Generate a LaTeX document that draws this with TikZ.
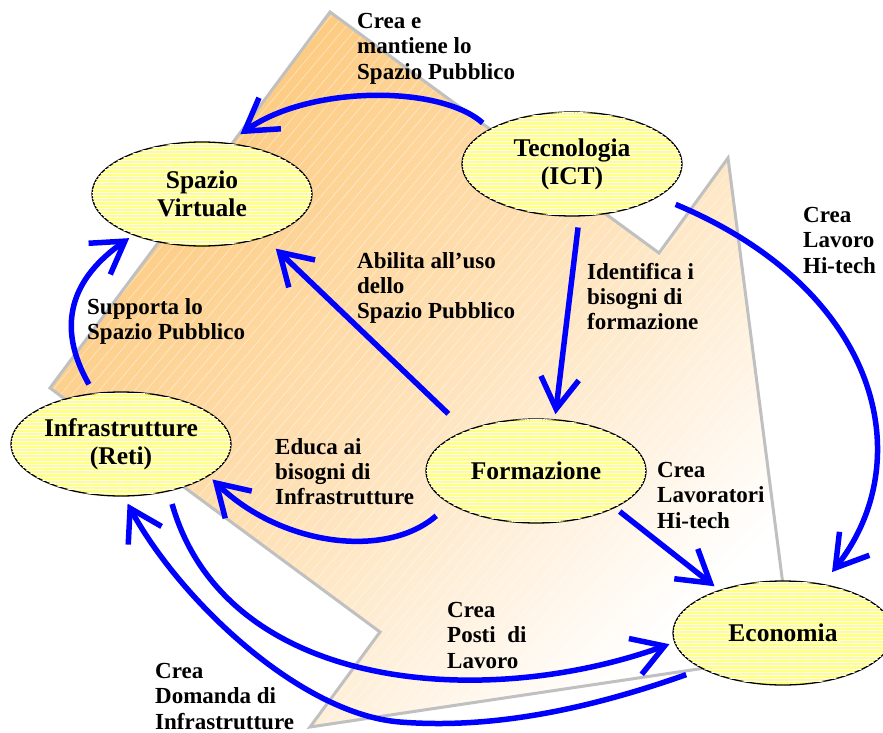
\documentclass[tikz,border=0pt]{standalone}
\usepackage{fontspec}
\setmainfont{Liberation Serif}
\usetikzlibrary{shapes.geometric,arrows.meta,patterns.meta}

\definecolor{arrowblue}{RGB}{0,0,255}
\definecolor{shapegray}{RGB}{192,192,192}
\definecolor{warm}{RGB}{253,200,122}
\definecolor{bubblefill}{RGB}{255,255,135}

\begin{document}
\begin{tikzpicture}[x=1pt,y=-1pt,
  bubble/.style={ellipse, draw=black, line width=1.3pt, fill=bubblefill,
    minimum width=220pt, minimum height=104pt, inner sep=0pt, align=center,
    font=\fontsize{25.5}{28}\selectfont\bfseries,
    postaction={pattern={Lines[angle=0,distance=3.2pt,line width=0.8pt]},
      pattern color=white}},
  link/.style={draw=arrowblue, line width=5.5pt,
    -{Straight Barb[length=31pt,width=38pt]}},
  note/.style={anchor=north west, inner sep=0pt, align=left,
    font=\fontsize{23}{25.3}\selectfont\bfseries},
]
\useasboundingbox (0,0) rectangle (883,733);
\fill[white] (0,0) rectangle (883,733);

% shaded backdrop polygon
\shade[top color=warm, bottom color=white, middle color=warm!55!white,
  shading angle=45]
  (330,12) -- (659,253) -- (728,158) -- (792,655) -- (310,727)
  -- (380,632) -- (50,388) -- cycle;
\fill[pattern={Lines[angle=50,distance=9pt,line width=0.6pt]},
  pattern color=white, opacity=0.5]
  (330,12) -- (659,253) -- (728,158) -- (792,655) -- (310,727)
  -- (380,632) -- (50,388) -- cycle;
\draw[shapegray, line width=3pt]
  (330,12) -- (659,253) -- (728,158) -- (792,655) -- (310,727)
  -- (380,632) -- (50,388) -- cycle;

% the five domains
\node[bubble] (spv) at (202,194) {Spazio\\Virtuale};
\node[bubble] (tec) at (572,164) {Tecnologia\\(ICT)};
\node[bubble] (inf) at (121,444) {Infrastrutture\\(Reti)};
\node[bubble] (frm) at (536,471) {Formazione};
\node[bubble] (eco) at (783,633) {Economia};

% relations
\draw[link, shorten <=9pt, shorten >=15pt]
  (tec.157) .. controls (440,85) and (310,85) .. (spv.63);
\draw[link, shorten <=10pt, shorten >=5pt]
  (inf.118) .. controls (55,325) and (72,278) .. (spv.211);
\draw[link, shorten <=24pt, shorten >=16pt] (frm.150) -- (spv.-35);
\draw[link, shorten <=11pt, shorten >=5pt] (tec.-82) -- (frm.70);
\draw[link, shorten <=19pt, shorten >=15pt]
  (tec.-21) .. controls (880,290) and (920,460) .. (eco.51);
\draw[link, shorten <=6pt, shorten >=6pt] (frm.-25) -- (eco.146);
\draw[link, shorten <=18pt, shorten >=5pt]
  (frm.201) .. controls (385,560) and (280,545) .. (inf.-20);
\draw[link, shorten <=13pt, shorten >=5pt]
  (inf.-45) .. controls (225,690) and (480,712) .. (eco.185);
\draw[link, shorten <=17pt, shorten >=8pt]
  (eco.204) .. controls (600,705) and (500,730) .. (400,722)
  .. controls (300,714) and (180,600) .. (inf.-87);

% relation labels
\node[note] (l1) at (357,13) {Crea e\\mantiene lo\\Spazio Pubblico};
\node[note] (l2) at (87,298) {Supporta lo\\Spazio Pubblico};
\node[note] (l3) at (357,252) {Abilita all’uso\\dello\\Spazio Pubblico};
\node[note] (l4) at (587,263) {Identifica i\\bisogni di\\formazione};
\node[note] (l5) at (803,207) {Crea\\Lavoro\\Hi-tech};
\node[note] (l6) at (275,438) {Educa ai\\bisogni di\\Infrastrutture};
\node[note] (l7) at (657,462) {Crea\\Lavoratori\\Hi-tech};
\node[note] (l8) at (447,602) {Crea\\Posti\ \ di\\Lavoro};
\node[note] (l9) at (155,663) {Crea\\Domanda di\\Infrastrutture};
\end{tikzpicture}
\end{document}
